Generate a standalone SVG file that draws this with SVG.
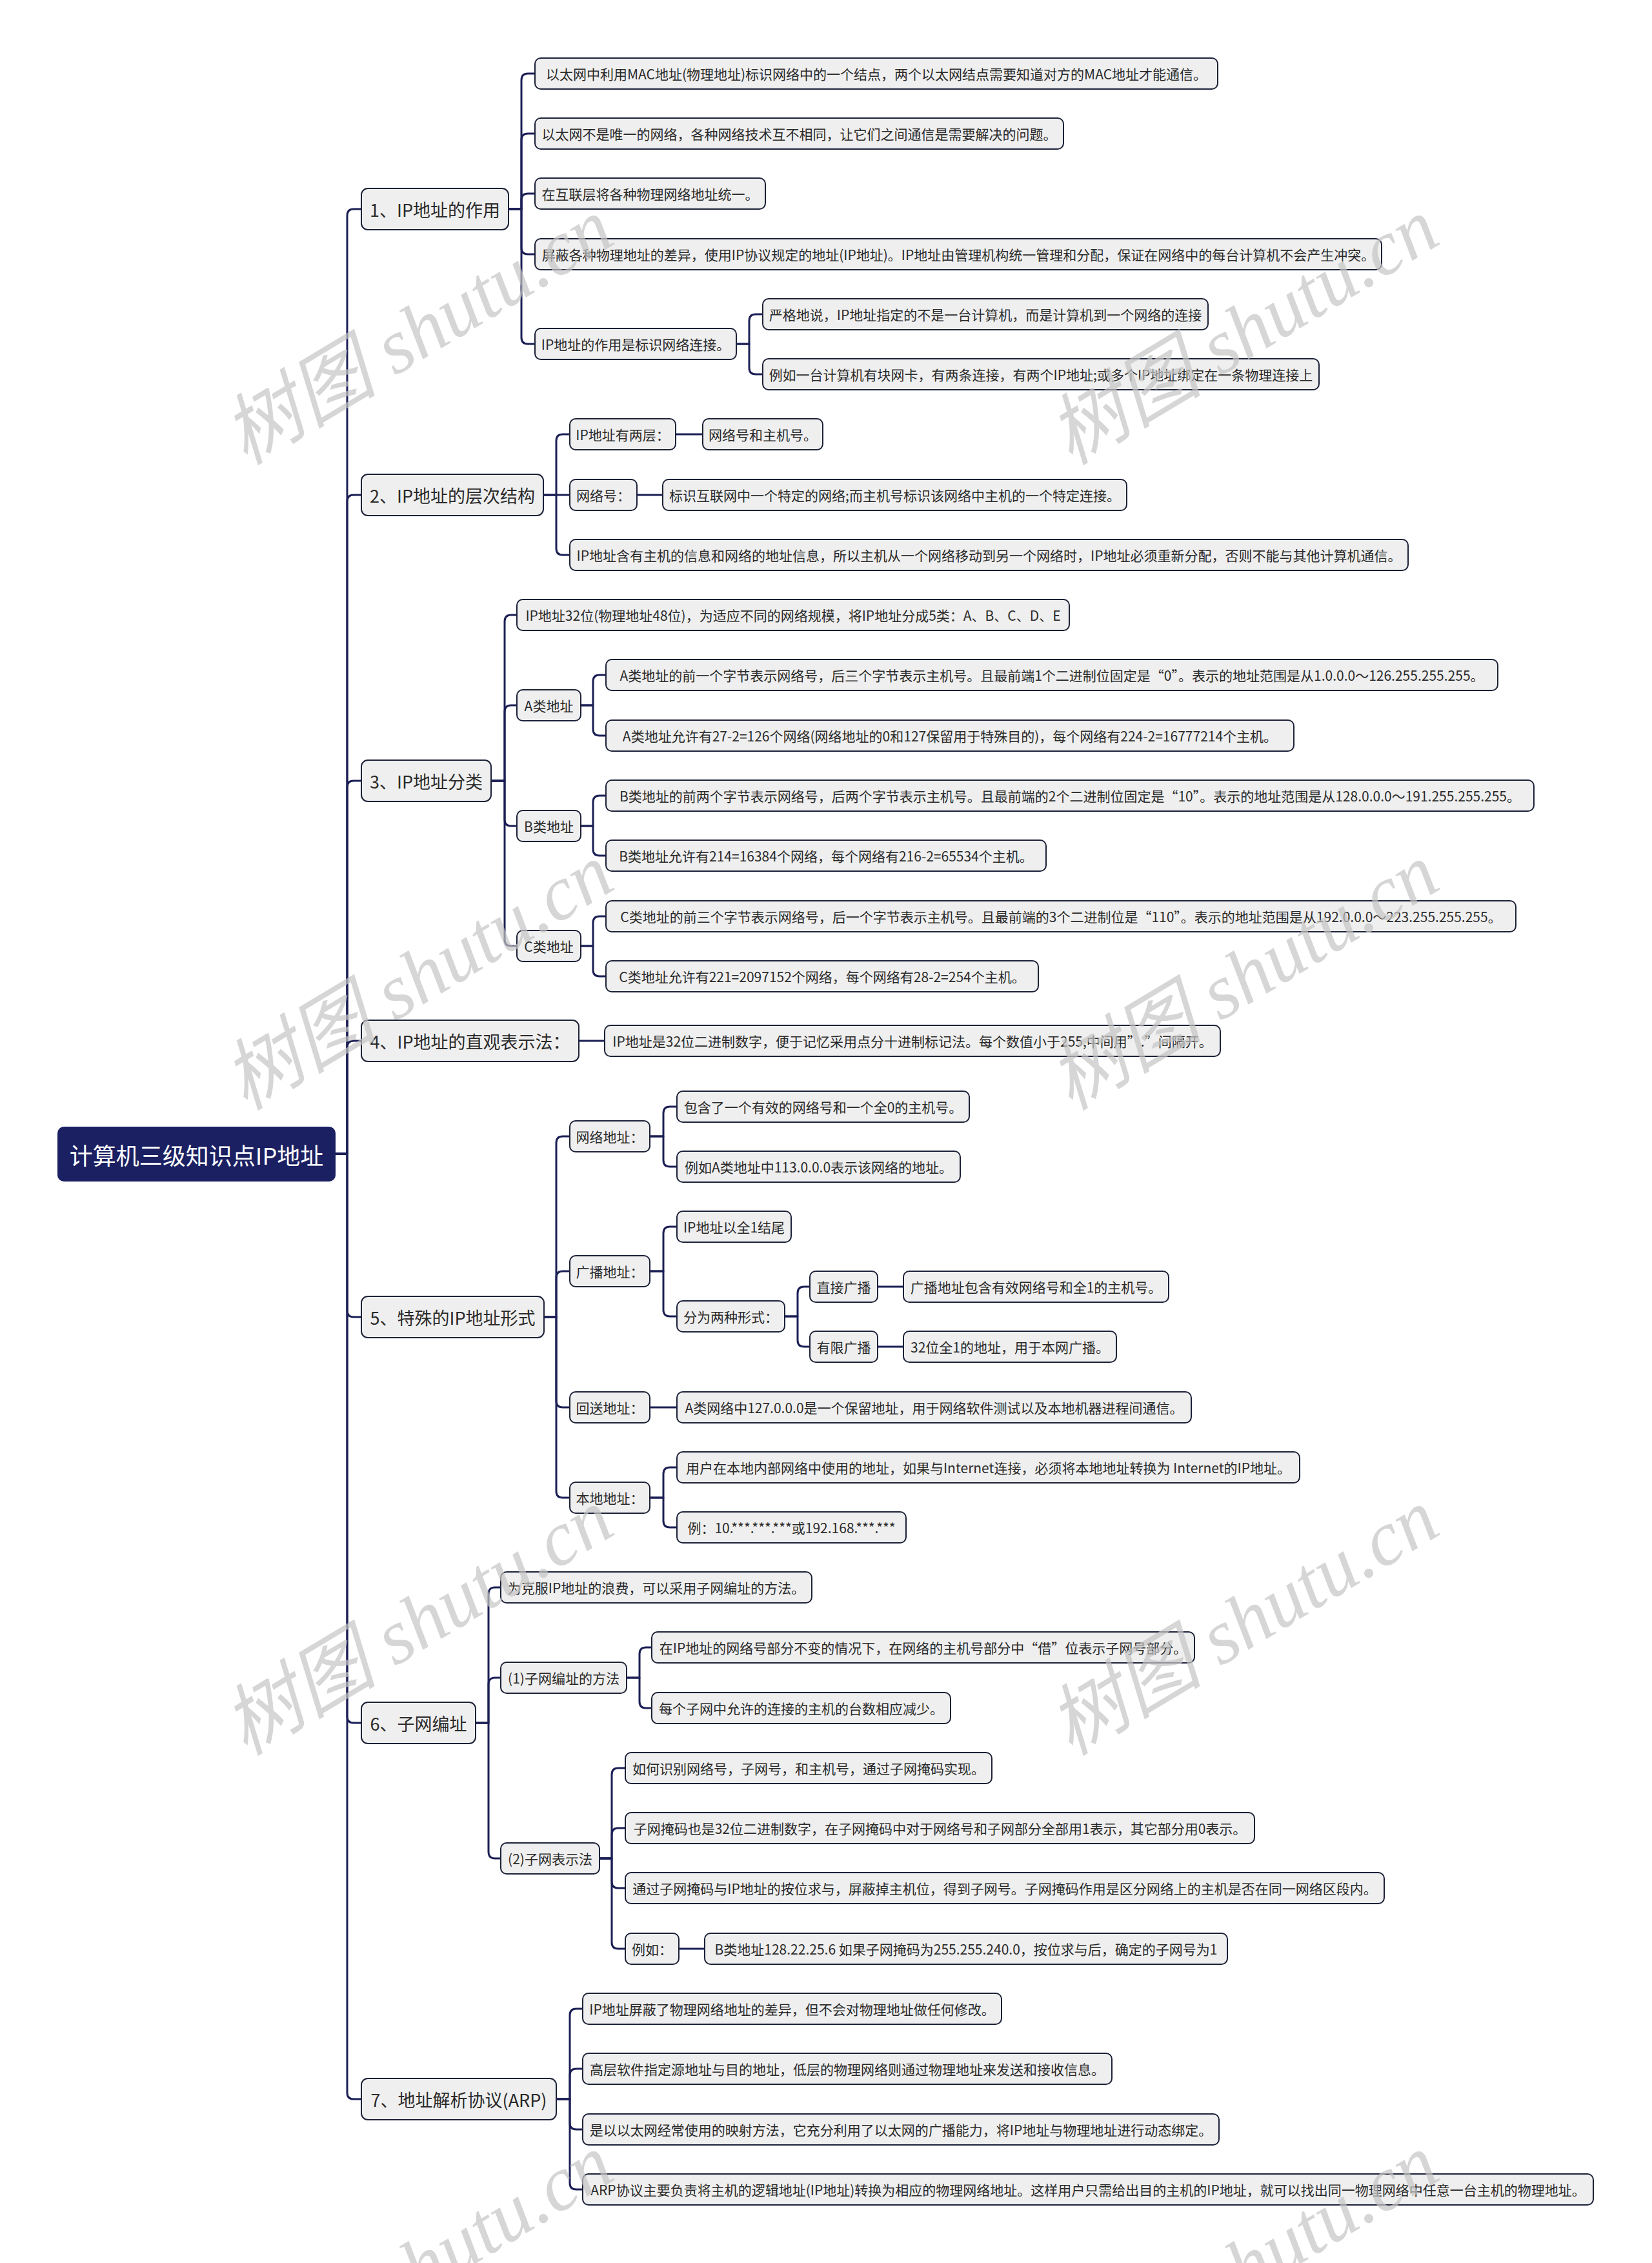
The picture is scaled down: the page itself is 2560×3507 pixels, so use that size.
<svg xmlns="http://www.w3.org/2000/svg" width="2560" height="3507" viewBox="0 0 2560 3507">
<style>
.n{fill:#efefef;stroke:#1c2138;stroke-width:2}
.t{font-family:'Noto Sans CJK SC','Liberation Sans',sans-serif;font-size:21px;fill:#2a2a2a;text-anchor:middle;dominant-baseline:central}
.l1{font-size:27px}
.rt{font-family:'Noto Sans CJK SC','Liberation Sans',sans-serif;font-size:36px;fill:#ffffff;text-anchor:middle;dominant-baseline:central}
.c{fill:none;stroke:#1b1f55;stroke-width:3;stroke-linejoin:round}
.wm{font-family:'Liberation Serif','Noto Sans CJK SC',serif;font-style:italic;font-size:120px;fill:#c4c4c4;fill-opacity:0.7;text-anchor:middle;dominant-baseline:central}
</style>
<rect width="2560" height="3507" fill="#ffffff"/>
<g id="connectors">
<path class="c" d="M520 1788 H538 V334 Q538 324 548 324 H560"/>
<path class="c" d="M520 1788 H538 V777 Q538 767 548 767 H560"/>
<path class="c" d="M520 1788 H538 V1220 Q538 1210 548 1210 H560"/>
<path class="c" d="M520 1788 H538 V1623 Q538 1613 548 1613 H560"/>
<path class="c" d="M520 1788 H538 V2031 Q538 2041 548 2041 H560"/>
<path class="c" d="M520 1788 H538 V2660 Q538 2670 548 2670 H560"/>
<path class="c" d="M520 1788 H538 V3243 Q538 3253 548 3253 H560"/>
<path class="c" d="M788 324 H808 V124 Q808 114 818 114 H829"/>
<path class="c" d="M788 324 H808 V217 Q808 207 818 207 H829"/>
<path class="c" d="M788 324 H808 V310 Q808 300 818 300 H829"/>
<path class="c" d="M788 324 H808 V384 Q808 394 818 394 H829"/>
<path class="c" d="M788 324 H808 V523 Q808 533 818 533 H829"/>
<path class="c" d="M1141 533 H1161 V497 Q1161 487 1171 487 H1182"/>
<path class="c" d="M1141 533 H1161 V570 Q1161 580 1171 580 H1182"/>
<path class="c" d="M842 767 H862 V683 Q862 673 872 673 H883"/>
<path class="c" d="M842 767 H883"/>
<path class="c" d="M842 767 H862 V850 Q862 860 872 860 H883"/>
<path class="c" d="M1047 673 H1089"/>
<path class="c" d="M987 767 H1027"/>
<path class="c" d="M761 1210 H782 V963 Q782 953 792 953 H801"/>
<path class="c" d="M761 1210 H782 V1103 Q782 1093 792 1093 H801"/>
<path class="c" d="M761 1210 H782 V1270 Q782 1280 792 1280 H801"/>
<path class="c" d="M761 1210 H782 V1456 Q782 1466 792 1466 H801"/>
<path class="c" d="M900 1093 H919 V1056 Q919 1046 929 1046 H939"/>
<path class="c" d="M900 1093 H919 V1130 Q919 1140 929 1140 H939"/>
<path class="c" d="M900 1280 H919 V1243 Q919 1233 929 1233 H939"/>
<path class="c" d="M900 1280 H919 V1316 Q919 1326 929 1326 H939"/>
<path class="c" d="M900 1466 H919 V1430 Q919 1420 929 1420 H939"/>
<path class="c" d="M900 1466 H919 V1503 Q919 1513 929 1513 H939"/>
<path class="c" d="M897 1613 H937"/>
<path class="c" d="M843 2041 H862 V1771 Q862 1761 872 1761 H883"/>
<path class="c" d="M843 2041 H862 V1980 Q862 1970 872 1970 H883"/>
<path class="c" d="M843 2041 H862 V2171 Q862 2181 872 2181 H883"/>
<path class="c" d="M843 2041 H862 V2311 Q862 2321 872 2321 H883"/>
<path class="c" d="M1007 1761 H1028 V1725 Q1028 1715 1038 1715 H1049"/>
<path class="c" d="M1007 1761 H1028 V1798 Q1028 1808 1038 1808 H1049"/>
<path class="c" d="M1007 1970 H1028 V1911 Q1028 1901 1038 1901 H1049"/>
<path class="c" d="M1007 1970 H1028 V2030 Q1028 2040 1038 2040 H1049"/>
<path class="c" d="M1216 2040 H1236 V2004 Q1236 1994 1246 1994 H1255"/>
<path class="c" d="M1216 2040 H1236 V2077 Q1236 2087 1246 2087 H1255"/>
<path class="c" d="M1360 1994 H1400"/>
<path class="c" d="M1360 2087 H1400"/>
<path class="c" d="M1007 2181 H1049"/>
<path class="c" d="M1007 2321 H1028 V2284 Q1028 2274 1038 2274 H1049"/>
<path class="c" d="M1007 2321 H1028 V2357 Q1028 2367 1038 2367 H1049"/>
<path class="c" d="M737 2670 H757 V2470 Q757 2460 767 2460 H776"/>
<path class="c" d="M737 2670 H757 V2610 Q757 2600 767 2600 H776"/>
<path class="c" d="M737 2670 H757 V2870 Q757 2880 767 2880 H776"/>
<path class="c" d="M971 2600 H991 V2563 Q991 2553 1001 2553 H1010"/>
<path class="c" d="M971 2600 H991 V2637 Q991 2647 1001 2647 H1010"/>
<path class="c" d="M929 2880 H948 V2750 Q948 2740 958 2740 H969"/>
<path class="c" d="M929 2880 H948 V2843 Q948 2833 958 2833 H969"/>
<path class="c" d="M929 2880 H948 V2916 Q948 2926 958 2926 H969"/>
<path class="c" d="M929 2880 H948 V3010 Q948 3020 958 3020 H969"/>
<path class="c" d="M1052 3020 H1092"/>
<path class="c" d="M862 3253 H883 V3123 Q883 3113 893 3113 H903"/>
<path class="c" d="M862 3253 H883 V3216 Q883 3206 893 3206 H903"/>
<path class="c" d="M862 3253 H883 V3290 Q883 3300 893 3300 H903"/>
<path class="c" d="M862 3253 H883 V3383 Q883 3393 893 3393 H903"/>
</g>
<g id="root"><rect x="89" y="1746" width="431" height="85" rx="10" fill="#1b2062"/><text class="rt" x="304.5" y="1788.5">计算机三级知识点IP地址</text></g>
<g id="s1"><rect class="n" x="560" y="292" width="228" height="64" rx="10"/><text class="t l1" x="674" y="324">1、IP地址的作用</text></g>
<g id="s1c1"><rect class="n" x="829" y="90" width="1058" height="48" rx="9"/><text class="t" x="1358" y="114">以太网中利用MAC地址(物理地址)标识网络中的一个结点，两个以太网结点需要知道对方的MAC地址才能通信。</text></g>
<g id="s1c2"><rect class="n" x="829" y="183" width="819" height="48" rx="9"/><text class="t" x="1238.5" y="207">以太网不是唯一的网络，各种网络技术互不相同，让它们之间通信是需要解决的问题。</text></g>
<g id="s1c3"><rect class="n" x="829" y="276" width="357" height="48" rx="9"/><text class="t" x="1007.5" y="300">在互联层将各种物理网络地址统一。</text></g>
<g id="s1c4"><rect class="n" x="829" y="370" width="1312" height="48" rx="9"/><text class="t" x="1485" y="394">屏蔽各种物理地址的差异，使用IP协议规定的地址(IP地址)。IP地址由管理机构统一管理和分配，保证在网络中的每台计算机不会产生冲突。</text></g>
<g id="s1c5"><rect class="n" x="829" y="509" width="312" height="48" rx="9"/><text class="t" x="985" y="533">IP地址的作用是标识网络连接。</text></g>
<g id="s1c5a"><rect class="n" x="1182" y="463" width="690" height="48" rx="9"/><text class="t" x="1527" y="487">严格地说，IP地址指定的不是一台计算机，而是计算机到一个网络的连接</text></g>
<g id="s1c5b"><rect class="n" x="1182" y="556" width="862" height="48" rx="9"/><text class="t" x="1613" y="580">例如一台计算机有块网卡，有两条连接，有两个IP地址;或多个IP地址绑定在一条物理连接上</text></g>
<g id="s2"><rect class="n" x="560" y="735" width="282" height="64" rx="10"/><text class="t l1" x="701" y="767">2、IP地址的层次结构</text></g>
<g id="s2a"><rect class="n" x="883" y="649" width="164" height="48" rx="9"/><text class="t" x="965" y="673">IP地址有两层：</text></g>
<g id="s2a1"><rect class="n" x="1089" y="649" width="186" height="48" rx="9"/><text class="t" x="1182" y="673">网络号和主机号。</text></g>
<g id="s2b"><rect class="n" x="883" y="743" width="104" height="48" rx="9"/><text class="t" x="935" y="767">网络号：</text></g>
<g id="s2b1"><rect class="n" x="1027" y="743" width="719" height="48" rx="9"/><text class="t" x="1386.5" y="767">标识互联网中一个特定的网络;而主机号标识该网络中主机的一个特定连接。</text></g>
<g id="s2c"><rect class="n" x="883" y="836" width="1299" height="48" rx="9"/><text class="t" x="1532.5" y="860">IP地址含有主机的信息和网络的地址信息，所以主机从一个网络移动到另一个网络时，IP地址必须重新分配，否则不能与其他计算机通信。</text></g>
<g id="s3"><rect class="n" x="560" y="1178" width="201" height="64" rx="10"/><text class="t l1" x="660.5" y="1210">3、IP地址分类</text></g>
<g id="s3t"><rect class="n" x="801" y="929" width="856" height="48" rx="9"/><text class="t" x="1229" y="953">IP地址32位(物理地址48位)，为适应不同的网络规模，将IP地址分成5类：A、B、C、D、E</text></g>
<g id="s3a"><rect class="n" x="801" y="1069" width="99" height="48" rx="9"/><text class="t" x="850.5" y="1093">A类地址</text></g>
<g id="s3a1"><rect class="n" x="939" y="1022" width="1382" height="48" rx="9"/><text class="t" x="1630" y="1046">A类地址的前一个字节表示网络号，后三个字节表示主机号。且最前端1个二进制位固定是“0”。表示的地址范围是从1.0.0.0～126.255.255.255。</text></g>
<g id="s3a2"><rect class="n" x="939" y="1116" width="1066" height="48" rx="9"/><text class="t" x="1472" y="1140">A类地址允许有27-2=126个网络(网络地址的0和127保留用于特殊目的)，每个网络有224-2=16777214个主机。</text></g>
<g id="s3b"><rect class="n" x="801" y="1256" width="99" height="48" rx="9"/><text class="t" x="850.5" y="1280">B类地址</text></g>
<g id="s3b1"><rect class="n" x="939" y="1209" width="1438" height="48" rx="9"/><text class="t" x="1658" y="1233">B类地址的前两个字节表示网络号，后两个字节表示主机号。且最前端的2个二进制位固定是“10”。表示的地址范围是从128.0.0.0～191.255.255.255。</text></g>
<g id="s3b2"><rect class="n" x="939" y="1302" width="682" height="48" rx="9"/><text class="t" x="1280" y="1326">B类地址允许有214=16384个网络，每个网络有216-2=65534个主机。</text></g>
<g id="s3c"><rect class="n" x="801" y="1442" width="99" height="48" rx="9"/><text class="t" x="850.5" y="1466">C类地址</text></g>
<g id="s3c1"><rect class="n" x="939" y="1396" width="1410" height="48" rx="9"/><text class="t" x="1644" y="1420">C类地址的前三个字节表示网络号，后一个字节表示主机号。且最前端的3个二进制位是“110”。表示的地址范围是从192.0.0.0～223.255.255.255。</text></g>
<g id="s3c2"><rect class="n" x="939" y="1489" width="670" height="48" rx="9"/><text class="t" x="1274" y="1513">C类地址允许有221=2097152个网络，每个网络有28-2=254个主机。</text></g>
<g id="s4"><rect class="n" x="560" y="1581" width="337" height="64" rx="10"/><text class="t l1" x="728.5" y="1613">4、IP地址的直观表示法：</text></g>
<g id="s4a"><rect class="n" x="937" y="1589" width="954" height="48" rx="9"/><text class="t" x="1414" y="1613">IP地址是32位二进制数字，便于记忆采用点分十进制标记法。每个数值小于255,中间用”.”间隔开。</text></g>
<g id="s5"><rect class="n" x="560" y="2009" width="283" height="64" rx="10"/><text class="t l1" x="701.5" y="2041">5、特殊的IP地址形式</text></g>
<g id="s5n"><rect class="n" x="883" y="1737" width="124" height="48" rx="9"/><text class="t" x="945" y="1761">网络地址：</text></g>
<g id="s5n1"><rect class="n" x="1049" y="1691" width="453" height="48" rx="9"/><text class="t" x="1275.5" y="1715">包含了一个有效的网络号和一个全0的主机号。</text></g>
<g id="s5n2"><rect class="n" x="1049" y="1784" width="439" height="48" rx="9"/><text class="t" x="1268.5" y="1808">例如A类地址中113.0.0.0表示该网络的地址。</text></g>
<g id="s5g"><rect class="n" x="883" y="1946" width="124" height="48" rx="9"/><text class="t" x="945" y="1970">广播地址：</text></g>
<g id="s5g1"><rect class="n" x="1049" y="1877" width="177" height="48" rx="9"/><text class="t" x="1137.5" y="1901">IP地址以全1结尾</text></g>
<g id="s5g2"><rect class="n" x="1049" y="2016" width="167" height="48" rx="9"/><text class="t" x="1132.5" y="2040">分为两种形式：</text></g>
<g id="s5gd"><rect class="n" x="1255" y="1970" width="105" height="48" rx="9"/><text class="t" x="1307.5" y="1994">直接广播</text></g>
<g id="s5gd1"><rect class="n" x="1400" y="1970" width="411" height="48" rx="9"/><text class="t" x="1605.5" y="1994">广播地址包含有效网络号和全1的主机号。</text></g>
<g id="s5gl"><rect class="n" x="1255" y="2063" width="105" height="48" rx="9"/><text class="t" x="1307.5" y="2087">有限广播</text></g>
<g id="s5gl1"><rect class="n" x="1400" y="2063" width="330" height="48" rx="9"/><text class="t" x="1565" y="2087">32位全1的地址，用于本网广播。</text></g>
<g id="s5h"><rect class="n" x="883" y="2157" width="124" height="48" rx="9"/><text class="t" x="945" y="2181">回送地址：</text></g>
<g id="s5h1"><rect class="n" x="1049" y="2157" width="797" height="48" rx="9"/><text class="t" x="1447.5" y="2181">A类网络中127.0.0.0是一个保留地址，用于网络软件测试以及本地机器进程间通信。</text></g>
<g id="s5l"><rect class="n" x="883" y="2297" width="124" height="48" rx="9"/><text class="t" x="945" y="2321">本地地址：</text></g>
<g id="s5l1"><rect class="n" x="1049" y="2250" width="965" height="48" rx="9"/><text class="t" x="1531.5" y="2274">用户在本地内部网络中使用的地址，如果与Internet连接，必须将本地地址转换为 Internet的IP地址。</text></g>
<g id="s5l2"><rect class="n" x="1049" y="2343" width="355" height="48" rx="9"/><text class="t" x="1226.5" y="2367">例：10.***.***.***或192.168.***.***</text></g>
<g id="s6"><rect class="n" x="560" y="2638" width="177" height="64" rx="10"/><text class="t l1" x="648.5" y="2670">6、子网编址</text></g>
<g id="s6a"><rect class="n" x="776" y="2436" width="482" height="48" rx="9"/><text class="t" x="1017" y="2460">为克服IP地址的浪费，可以采用子网编址的方法。</text></g>
<g id="s6p1"><rect class="n" x="776" y="2576" width="195" height="48" rx="9"/><text class="t" x="873.5" y="2600">(1)子网编址的方法</text></g>
<g id="s6p1a"><rect class="n" x="1010" y="2529" width="841" height="48" rx="9"/><text class="t" x="1430.5" y="2553">在IP地址的网络号部分不变的情况下，在网络的主机号部分中“借”位表示子网号部分。</text></g>
<g id="s6p1b"><rect class="n" x="1010" y="2623" width="463" height="48" rx="9"/><text class="t" x="1241.5" y="2647">每个子网中允许的连接的主机的台数相应减少。</text></g>
<g id="s6p2"><rect class="n" x="776" y="2856" width="153" height="48" rx="9"/><text class="t" x="852.5" y="2880">(2)子网表示法</text></g>
<g id="s6p2a"><rect class="n" x="969" y="2716" width="568" height="48" rx="9"/><text class="t" x="1253" y="2740">如何识别网络号，子网号，和主机号，通过子网掩码实现。</text></g>
<g id="s6p2b"><rect class="n" x="969" y="2809" width="975" height="48" rx="9"/><text class="t" x="1456.5" y="2833">子网掩码也是32位二进制数字，在子网掩码中对于网络号和子网部分全部用1表示，其它部分用0表示。</text></g>
<g id="s6p2c"><rect class="n" x="969" y="2902" width="1176" height="48" rx="9"/><text class="t" x="1557" y="2926">通过子网掩码与IP地址的按位求与，屏蔽掉主机位，得到子网号。子网掩码作用是区分网络上的主机是否在同一网络区段内。</text></g>
<g id="s6p2d"><rect class="n" x="969" y="2996" width="83" height="48" rx="9"/><text class="t" x="1010.5" y="3020">例如：</text></g>
<g id="s6p2d1"><rect class="n" x="1092" y="2996" width="810" height="48" rx="9"/><text class="t" x="1497" y="3020">B类地址128.22.25.6 如果子网掩码为255.255.240.0，按位求与后，确定的子网号为1</text></g>
<g id="s7"><rect class="n" x="560" y="3221" width="302" height="64" rx="10"/><text class="t l1" x="711" y="3253">7、地址解析协议(ARP)</text></g>
<g id="s7a"><rect class="n" x="903" y="3089" width="649" height="48" rx="9"/><text class="t" x="1227.5" y="3113">IP地址屏蔽了物理网络地址的差异，但不会对物理地址做任何修改。</text></g>
<g id="s7b"><rect class="n" x="903" y="3182" width="820" height="48" rx="9"/><text class="t" x="1313" y="3206">高层软件指定源地址与目的地址，低层的物理网络则通过物理地址来发送和接收信息。</text></g>
<g id="s7c"><rect class="n" x="903" y="3276" width="986" height="48" rx="9"/><text class="t" x="1396" y="3300">是以以太网经常使用的映射方法，它充分利用了以太网的广播能力，将IP地址与物理地址进行动态绑定。</text></g>
<g id="s7d"><rect class="n" x="903" y="3369" width="1566" height="48" rx="9"/><text class="t" x="1686" y="3393">ARP协议主要负责将主机的逻辑地址(IP地址)转换为相应的物理网络地址。这样用户只需给出目的主机的IP地址，就可以找出同一物理网络中任意一台主机的物理地址。</text></g>
<g id="watermark">
<text class="wm" transform="translate(648 514) rotate(-31)">树图 shutu.cn</text>
<text class="wm" transform="translate(1927 514) rotate(-31)">树图 shutu.cn</text>
<text class="wm" transform="translate(648 1514) rotate(-31)">树图 shutu.cn</text>
<text class="wm" transform="translate(1927 1514) rotate(-31)">树图 shutu.cn</text>
<text class="wm" transform="translate(648 2514) rotate(-31)">树图 shutu.cn</text>
<text class="wm" transform="translate(1927 2514) rotate(-31)">树图 shutu.cn</text>
<text class="wm" transform="translate(648 3514) rotate(-31)">树图 shutu.cn</text>
<text class="wm" transform="translate(1927 3514) rotate(-31)">树图 shutu.cn</text>
</g>
</svg>
